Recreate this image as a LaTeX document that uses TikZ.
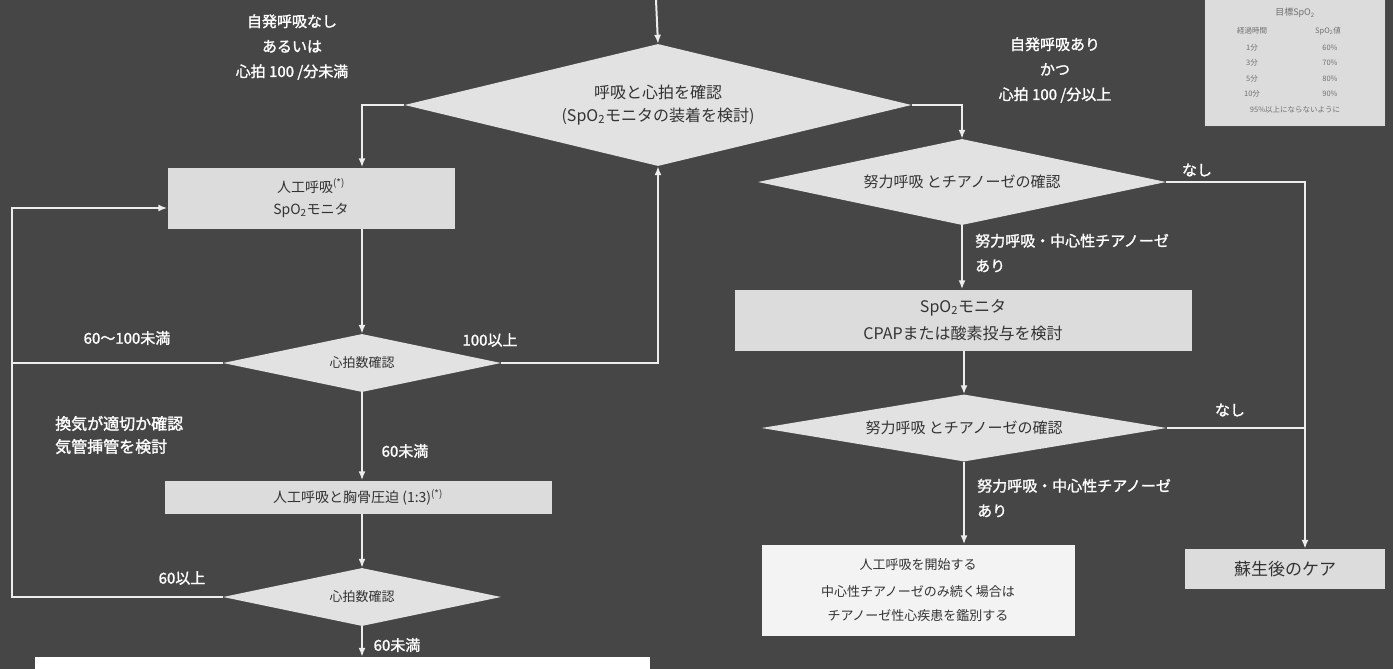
\documentclass[tikz,border=0pt]{standalone}
\usepackage{fontspec}
\setmainfont{Noto Sans CJK JP}
\newfontfamily\jpb[FakeBold=1.5]{Noto Sans CJK JP}
\usetikzlibrary{shapes.geometric,arrows.meta,calc}
\definecolor{bg}{HTML}{464646}
\definecolor{boxc}{HTML}{DCDCDC}
\definecolor{dia}{HTML}{E2E2E2}
\definecolor{wbox}{HTML}{F3F3F3}
\definecolor{txt}{HTML}{333333}
\definecolor{lin}{HTML}{EDEDED}
\definecolor{tbt}{HTML}{707070}
\begin{document}
\begin{tikzpicture}[x=1pt,y=-1pt,
 dec/.style={diamond, fill=dia, inner sep=0pt, text=txt, align=center},
 pbox/.style={rectangle, fill=boxc, inner sep=0pt, text=txt, align=center},
 lbl/.style={text=white, font=\jpb\fontsize{15}{25}\selectfont, align=center, inner sep=0pt},
 tbl/.style={text=tbt, font=\fontsize{7.5}{9}\selectfont, inner sep=0pt},
 con/.style={draw=lin, line width=2pt},
 arr/.style={con, -{Latex[length=9pt,width=7pt]}},
]
\useasboundingbox (0,0) rectangle (1393,669);
\fill[bg] (0,0) rectangle (1393,669);

% decisions
\node[dec, shape aspect=4.16, minimum width=507pt, minimum height=122pt, font=\fontsize{16}{23}\selectfont] (D1) at (658,105) {呼吸と心拍を確認\\(SpO\textsubscript{2}モニタの装着を検討)};
\node[dec, shape aspect=4.8, minimum width=278pt, minimum height=58pt, font=\fontsize{13}{16}\selectfont] (D3) at (362,363) {心拍数確認};
\node[dec, shape aspect=4.8, minimum width=278pt, minimum height=58pt, font=\fontsize{13}{16}\selectfont] (D4) at (362,597) {心拍数確認};
\node[dec, shape aspect=4.74, minimum width=408pt, minimum height=86pt, font=\fontsize{15}{18}\selectfont] (D2) at (962,182) {努力呼吸 とチアノーゼの確認};
\node[dec, shape aspect=6.0, minimum width=405pt, minimum height=67pt, font=\fontsize{15}{18}\selectfont] (D5) at (964,428) {努力呼吸 とチアノーゼの確認};

% boxes
\node[pbox, minimum width=287pt, minimum height=61pt, font=\fontsize{14}{22}\selectfont] (B1) at (311,198) {人工呼吸\textsuperscript{(*)}\\SpO\textsubscript{2}モニタ};
\node[pbox, minimum width=387pt, minimum height=33pt, font=\fontsize{14}{17}\selectfont] (B2) at (358,497) {人工呼吸と胸骨圧迫 (1:3)\textsuperscript{(*)}};
\node[pbox, minimum width=457pt, minimum height=61pt, font=\fontsize{16}{27}\selectfont] (B3) at (963,320) {SpO\textsubscript{2}モニタ\\CPAPまたは酸素投与を検討};
\node[pbox, fill=wbox, minimum width=313pt, minimum height=91pt, font=\fontsize{13}{24}\selectfont] (B4) at (918,590) {人工呼吸を開始する\\[3pt]中心性チアノーゼのみ続く場合は\\チアノーゼ性心疾患を鑑別する};
\node[pbox, minimum width=200pt, minimum height=40pt, font=\fontsize{17}{20}\selectfont] (B5) at (1285,569) {蘇生後のケア};
\node[pbox, fill=white, minimum width=615pt, minimum height=32pt] (B6) at (342,673) {};

% SpO2 table
\node[pbox, fill=boxc, draw=black!70, line width=1pt, minimum width=181pt, minimum height=132pt] (TB) at (1295,60) {};
\node[tbl, font=\fontsize{9}{11}\selectfont] (t0) at (1295,13) {目標SpO\textsubscript{2}};
\node[tbl] (t1a) at (1252,31) {経過時間};
\node[tbl] (t1b) at (1328,31) {SpO\textsubscript{2}値};
\node[tbl] (t2a) at (1252,48) {1分};
\node[tbl] (t2b) at (1330,48) {60\%};
\node[tbl] (t3a) at (1252,63) {3分};
\node[tbl] (t3b) at (1330,63) {70\%};
\node[tbl] (t4a) at (1252,79) {5分};
\node[tbl] (t4b) at (1330,79) {80\%};
\node[tbl] (t5a) at (1252,94) {10分};
\node[tbl] (t5b) at (1330,94) {90\%};
\node[tbl] (t6) at (1295,110) {95\%以上にならないように};

% labels
\node[lbl] (l1) at (292,47) {自発呼吸なし\\あるいは\\心拍 100 /分未満};
\node[lbl] (l2) at (1055,70) {自発呼吸あり\\かつ\\心拍 100 /分以上};
\node[lbl] (l3) at (127,338) {60～100未満};
\node[lbl] (l4) at (490,340) {100以上};
\node[lbl, align=left, anchor=west, font=\jpb\fontsize{16}{23}\selectfont] (l5) at (55,435) {換気が適切か確認\\気管挿管を検討};
\node[lbl] (l6) at (405,451) {60未満};
\node[lbl] (l7) at (182,578) {60以上};
\node[lbl] (l8) at (397,645) {60未満};
\node[lbl] (l9) at (1197,170) {なし};
\node[lbl] (l10) at (1230,410) {なし};
\node[lbl, align=left, anchor=west] (l11) at (975,253) {努力呼吸・中心性チアノーゼ\\あり};
\node[lbl, align=left, anchor=west] (l12) at (977,498) {努力呼吸・中心性チアノーゼ\\あり};

% connectors
\coordinate (top) at (656,0);
\coordinate (LL) at (12,208);
\coordinate (RR) at (1305,182);
\draw[arr] (top) -- (D1.north);
\draw[arr] (D1.west) -| (B1.north -| D3.north);
\draw[arr] (B1.south -| D3.north) -- (D3.north);
\draw[arr] (D3.east) -| (D1.south);
\draw[arr] (D3.south) -- (B2.north -| D3.south);
\draw[arr] (B2.south -| D4.north) -- (D4.north);
\draw[arr] (D4.south) -- (B6.north -| D4.south);
\draw[con] (D4.west) -| (LL);
\draw[arr] (D3.west) -| (LL) -- (B1.west |- LL);
\draw[arr] (D1.east) -| (D2.north);
\draw[arr] (D2.south) -- (B3.north -| D2.south);
\draw[arr] (B3.south -| D5.north) -- (D5.north);
\draw[arr] (D5.south) -- (B4.north -| D5.south);
\draw[arr] (D2.east) -- (RR) -- (RR |- B5.north);
\draw[con] (D5.east) -- (D5.east -| RR);
\end{tikzpicture}
\end{document}
